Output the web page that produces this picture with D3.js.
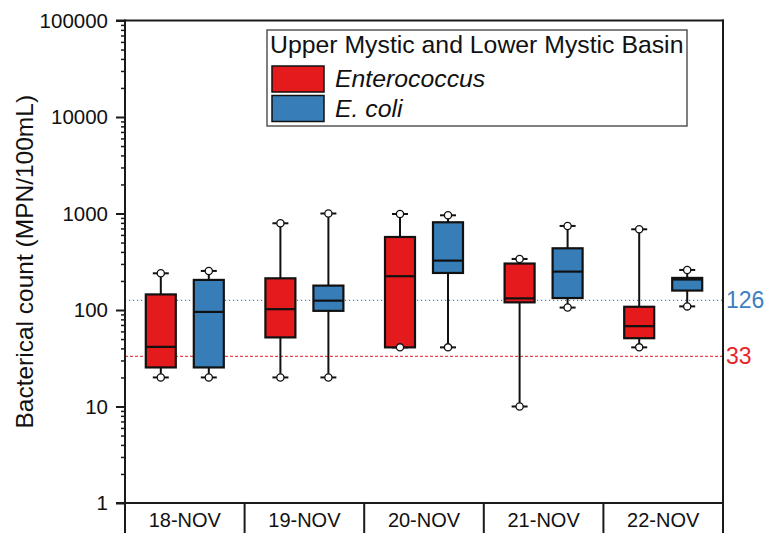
<!DOCTYPE html>
<html><head><meta charset="utf-8">
<script src="https://cdn.jsdelivr.net/npm/d3@7"></script>
<style>body{margin:0;background:#fff}svg{display:block;font-family:"Liberation Sans",Arial,sans-serif}</style>
</head><body><svg id="c" width="767" height="533"></svg>
<script>
const categories = ["18-NOV","19-NOV","20-NOV","21-NOV","22-NOV"];
const seriesNames = ["Enterococcus","E. coli"];
// [min, q1, median, q3, max]
const enterococcus = [
  [20, 25.4, 41.5, 145, 240],
  [20, 52, 102, 213, 792],
  [41, 41, 224, 571, 988],
  [10, 120, 132, 303, 338],
  [41, 51, 68, 108, 686]
];
const ecoli = [
  [20, 25.4, 95.5, 205, 254],
  [20, 98, 125, 179, 1000],
  [41, 242, 325, 811, 958],
  [106, 133, 250, 436, 743],
  [109, 159, 207, 215, 260]
];
const refValues = [126, 33];
const refLabels = ["126", "33"];
const yTicks = [1, 10, 100, 1000, 10000, 100000];
const legendTitle = "Upper Mystic and Lower Mystic Basin";
const yTitle = "Bacterical count (MPN/100mL)";

const colors = ["#E41A1C", "#377EB8"];
const svg = d3.select("#c");
const L = 125, R = 723, T = 20.5, B = 503, H = 533;
const x = d3.scaleBand().domain(categories).range([L, R]);
const y = d3.scaleLog().domain([1, 100000]).range([B, T]);
const off = d3.scaleOrdinal().domain(seriesNames).range([-24, 24]);
const bw = 30;

// reference lines
svg.append("line").attr("x1", L).attr("x2", R).attr("y1", y(refValues[0])).attr("y2", y(refValues[0]))
  .attr("stroke", "#3C86C6").attr("stroke-width", 1.2).attr("stroke-dasharray", "1.2,2.8");
svg.append("line").attr("x1", L).attr("x2", R).attr("y1", y(refValues[1])).attr("y2", y(refValues[1]))
  .attr("stroke", "#F0484A").attr("stroke-width", 1.2).attr("stroke-dasharray", "3,2");
svg.append("text").attr("x", R + 3).attr("y", y(refValues[0]) + 8).attr("fill", "#3C7FC0")
  .attr("font-size", 23).text(refLabels[0]);
svg.append("text").attr("x", R + 3).attr("y", y(refValues[1]) + 8).attr("fill", "#E8262A")
  .attr("font-size", 23).text(refLabels[1]);

// boxes
const series = [enterococcus, ecoli];
series.forEach((data, si) => {
  const g = svg.append("g");
  data.forEach((d, i) => {
    const cx = x(categories[i]) + x.bandwidth() / 2 + off(seriesNames[si]);
    const [mn, q1, md, q3, mx] = d;
    g.append("line").attr("x1", cx).attr("x2", cx).attr("y1", y(mx)).attr("y2", y(q3))
      .attr("stroke", "#111").attr("stroke-width", 2);
    g.append("line").attr("x1", cx).attr("x2", cx).attr("y1", y(q1)).attr("y2", y(mn))
      .attr("stroke", "#111").attr("stroke-width", 2);
    [mn, mx].forEach(v => {
      g.append("line").attr("x1", cx - 8).attr("x2", cx + 8).attr("y1", y(v)).attr("y2", y(v))
        .attr("stroke", "#111").attr("stroke-width", 2);
    });
    g.append("rect").attr("x", cx - bw / 2).attr("y", y(q3)).attr("width", bw)
      .attr("height", y(q1) - y(q3)).attr("fill", colors[si]).attr("stroke", "#111").attr("stroke-width", 2.2);
    g.append("line").attr("x1", cx - bw / 2).attr("x2", cx + bw / 2).attr("y1", y(md)).attr("y2", y(md))
      .attr("stroke", "#111").attr("stroke-width", 2.2);
    [mn, mx].forEach(v => {
      g.append("circle").attr("cx", cx).attr("cy", y(v)).attr("r", 3.6)
        .attr("fill", "#fff").attr("stroke", "#111").attr("stroke-width", 1.3);
    });
  });
});

// frame
const fr = svg.append("g").attr("stroke", "#1a1a1a").attr("stroke-width", 2).attr("fill", "none");
fr.append("line").attr("x1", L).attr("x2", L).attr("y1", T - 1).attr("y2", H);
fr.append("line").attr("x1", R).attr("x2", R).attr("y1", T - 1).attr("y2", H);
fr.append("line").attr("x1", L - 9).attr("x2", R + 1).attr("y1", T).attr("y2", T);
fr.append("line").attr("x1", L - 9).attr("x2", R + 1).attr("y1", B).attr("y2", B);
categories.slice(1).forEach(c => {
  fr.append("line").attr("x1", x(c)).attr("x2", x(c)).attr("y1", B).attr("y2", H);
});

// y axis
const minor = [];
for (let e = 0; e < 5; e++) for (let k = 2; k <= 9; k++) minor.push(k * Math.pow(10, e));
const yAxis = d3.axisLeft(y).tickValues(yTicks).tickFormat(d3.format("d")).tickSize(9).tickPadding(8);
const ya = svg.append("g").attr("transform", `translate(${L},0)`).call(yAxis);
ya.select(".domain").remove();
ya.selectAll(".tick line").attr("stroke", "#1a1a1a").attr("stroke-width", 2);
ya.selectAll(".tick text").attr("font-size", 20.5).attr("fill", "#111").attr("font-family", "Liberation Sans, Arial, sans-serif");
const yMinor = d3.axisLeft(y).tickValues(minor).tickFormat("").tickSize(4);
const ym = svg.append("g").attr("transform", `translate(${L},0)`).call(yMinor);
ym.select(".domain").remove();
ym.selectAll(".tick line").attr("stroke", "#1a1a1a").attr("stroke-width", 1.5);

// category labels
svg.append("g").selectAll("text").data(categories).join("text")
  .attr("x", d => x(d) + x.bandwidth() / 2).attr("y", 527).attr("text-anchor", "middle")
  .attr("font-size", 20).attr("fill", "#111").text(d => d);

// y title
svg.append("text").attr("transform", `translate(33,${(T + B) / 2}) rotate(-90)`)
  .attr("text-anchor", "middle").attr("font-size", 24.5).attr("fill", "#111").text(yTitle);

// legend
const lg = svg.append("g");
lg.append("rect").attr("x", 267).attr("y", 30).attr("width", 420).attr("height", 96)
  .attr("fill", "#fff").attr("stroke", "#555").attr("stroke-width", 1.5);
lg.append("text").attr("x", 270).attr("y", 53).attr("font-size", 24.8).attr("fill", "#111").text(legendTitle);
seriesNames.forEach((s, i) => {
  lg.append("rect").attr("x", 272).attr("y", 66 + i * 29.5).attr("width", 52).attr("height", 26)
    .attr("fill", colors[i]).attr("stroke", "#111").attr("stroke-width", 1.5);
  lg.append("text").attr("x", 335).attr("y", 87 + i * 30).attr("font-size", 24.8)
    .attr("font-style", "italic").attr("fill", "#111").text(s);
});
</script></body></html>
